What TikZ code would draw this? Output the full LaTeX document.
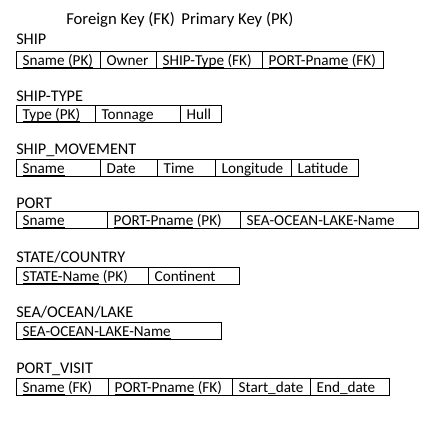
\documentclass[tikz,border=0pt]{standalone}
\usepackage{fontspec}
\setmainfont{Carlito}
\usepackage{tikz}
\usetikzlibrary{positioning}

\newcommand{\keyul}[1]{\underline{\smash{#1}}}

\begin{document}
\begin{tikzpicture}[x=0.75pt, y=-0.75pt,
    cell/.style={draw, line width=0.7pt, anchor=west, outer sep=0pt,
      /utils/exec={\pgfmathsetlengthmacro\cellw{#1*0.75pt-10pt}},
      inner xsep=5pt, inner ysep=0pt, minimum height=12.3pt,
      execute at begin node={\hbox to \cellw\bgroup},
      execute at end node={\hfil\egroup},
      text height=10pt, text depth=2.3pt, font=\fontsize{11.4}{13}\selectfont},
    tlabel/.style={anchor=west, inner sep=0pt, font=\fontsize{12.2}{14}\selectfont}]
  \useasboundingbox (0,0) rectangle (434,421);

  \node[tlabel, font=\fontsize{12.5}{14}\selectfont] (legend) at (66,20) {Foreign Key (FK)\, Primary Key (PK)};

  % SHIP
  \node[tlabel] (shiplbl) at (16,39) {SHIP};
  \node[cell=84] (ship1) at (16,60) {\keyul{Sname (PK)}};
  \node[cell=56, right=0pt of ship1] (ship2) {Owner};
  \node[cell=106, right=0pt of ship2] (ship3) {\keyul{SHIP-Type} (FK)};
  \node[cell=121, right=0pt of ship3] (ship4) {\keyul{PORT-Pname} (FK)};

  % SHIP-TYPE
  \node[tlabel] (typelbl) at (16,96) {SHIP-TYPE};
  \node[cell=79] (type1) at (16,114) {\keyul{Type (PK)}};
  \node[cell=85, right=0pt of type1] (type2) {Tonnage};
  \node[cell=41, right=0pt of type2] (type3) {Hull};

  % SHIP_MOVEMENT
  \node[tlabel] (movelbl) at (16,150) {SHIP\_MOVEMENT};
  \node[cell=84] (move1) at (16,168) {\keyul{Sname}};
  \node[cell=57, right=0pt of move1] (move2) {Date};
  \node[cell=58, right=0pt of move2] (move3) {Time};
  \node[cell=76, right=0pt of move3] (move4) {Longitude};
  \node[cell=67, right=0pt of move4] (move5) {Latitude};

  % PORT
  \node[tlabel] (portlbl) at (16,203) {PORT};
  \node[cell=91] (port1) at (16,220) {\keyul{Sname}};
  \node[cell=133, right=0pt of port1] (port2) {\keyul{PORT-Pname} (PK)};
  \node[cell=178, right=0pt of port2] (port3) {SEA-OCEAN-LAKE-Name};

  % STATE/COUNTRY
  \node[tlabel] (statelbl) at (16,257) {STATE/COUNTRY};
  \node[cell=132] (state1) at (16,276) {\keyul{STATE-Name} (PK)};
  \node[cell=91, right=0pt of state1] (state2) {Continent};

  % SEA/OCEAN/LAKE
  \node[tlabel] (sealbl) at (16,312) {SEA/OCEAN/LAKE};
  \node[cell=205] (sea1) at (16,331) {\keyul{SEA-OCEAN-LAKE-Name}};

  % PORT_VISIT
  \node[tlabel] (visitlbl) at (16,369) {PORT\_VISIT};
  \node[cell=92] (visit1) at (16,387) {\keyul{Sname} (FK)};
  \node[cell=124, right=0pt of visit1] (visit2) {\keyul{PORT-Pname} (FK)};
  \node[cell=78, right=0pt of visit2] (visit3) {Start\_date};
  \node[cell=79, right=0pt of visit3] (visit4) {End\_date};
\end{tikzpicture}
\end{document}
